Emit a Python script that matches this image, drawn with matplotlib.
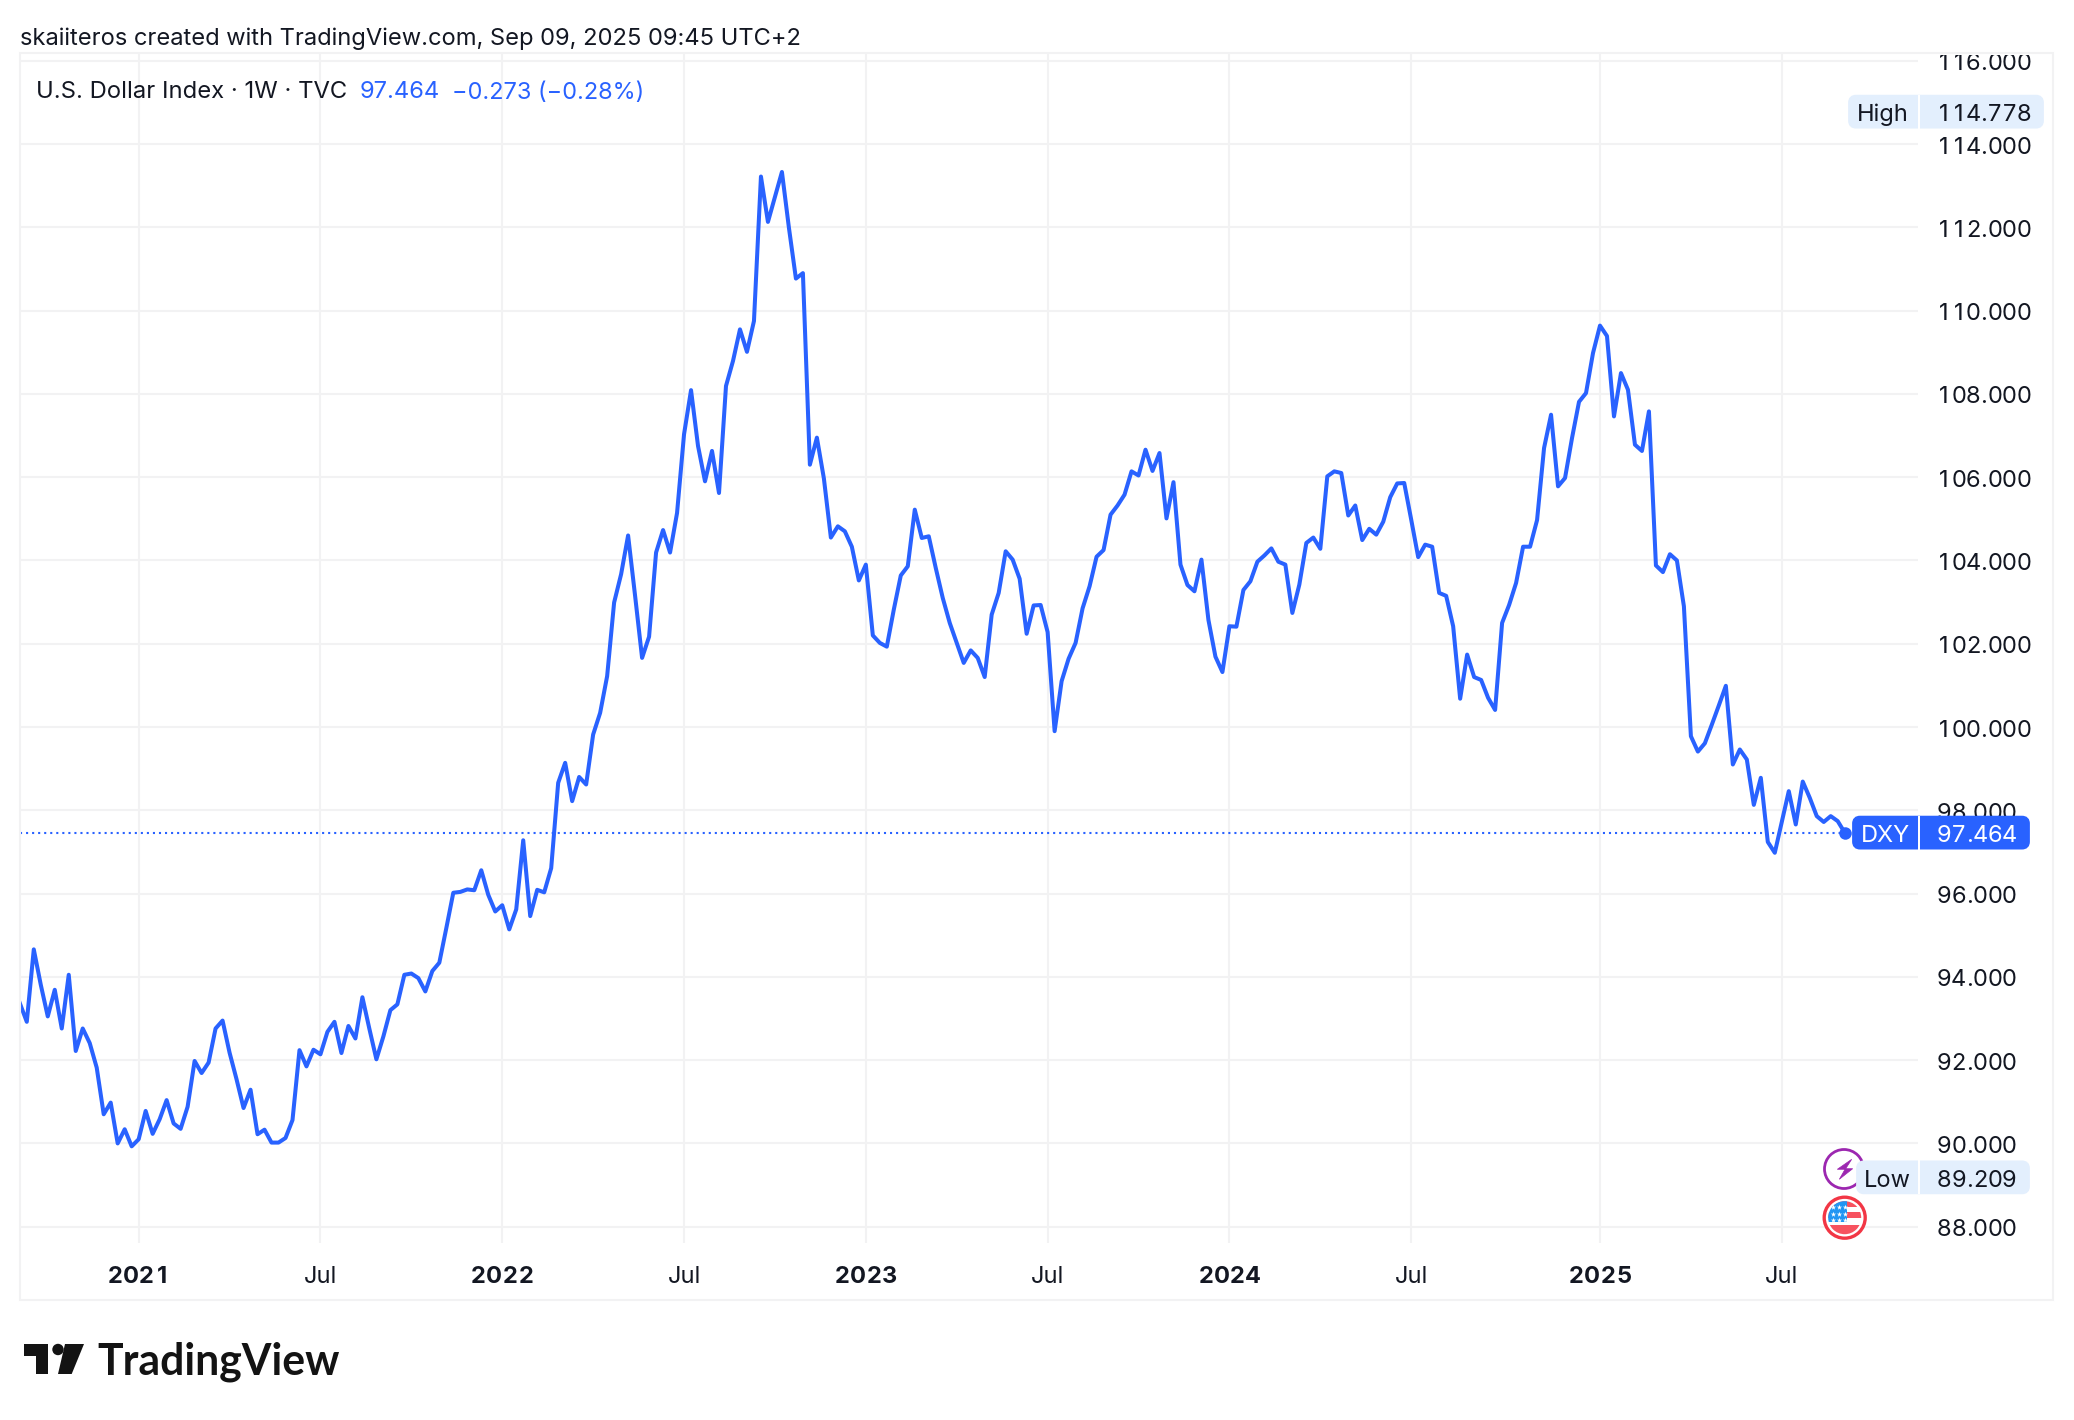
import numpy as np
import pandas as pd
import matplotlib
matplotlib.use("Agg")
import matplotlib.pyplot as plt
import matplotlib.dates as mdates
from matplotlib.patches import Circle, FancyBboxPatch, Polygon, Rectangle

# weekly closes, one per Monday from 2020-09-07
closes = [
    93.37, 92.92, 94.66, 93.81, 93.05, 93.69, 92.76, 94.05, 92.22, 92.76,
    92.41, 91.82, 90.70, 90.98, 90.00, 90.34, 89.93, 90.10, 90.78, 90.23,
    90.58, 91.04, 90.48, 90.35, 90.88, 91.98, 91.69, 91.94, 92.76, 92.95,
    92.18, 91.54, 90.85, 91.29, 90.22, 90.33, 90.02, 90.02, 90.13, 90.56,
    92.24, 91.85, 92.25, 92.14, 92.68, 92.92, 92.17, 92.82, 92.52, 93.51,
    92.75, 92.02, 92.57, 93.20, 93.34, 94.05, 94.08, 93.97, 93.65, 94.14,
    94.34, 95.17, 96.02, 96.04, 96.10, 96.08, 96.56, 95.97, 95.57, 95.72,
    95.14, 95.62, 97.28, 95.46, 96.09, 96.03, 96.61, 98.66, 99.14, 98.22,
    98.80, 98.62, 99.82, 100.34, 101.22, 102.99, 103.67, 104.60, 103.15, 101.66,
    102.17, 104.19, 104.73, 104.19, 105.14, 107.03, 108.09, 106.75, 105.90, 106.63,
    105.62, 108.19, 108.79, 109.55, 109.01, 109.75, 113.22, 112.13, 112.73, 113.33,
    111.99, 110.77, 110.90, 106.30, 106.95, 105.97, 104.55, 104.82, 104.70, 104.33,
    103.52, 103.90, 102.20, 102.02, 101.93, 102.82, 103.64, 103.86, 105.22, 104.54,
    104.58, 103.82, 103.10, 102.50, 102.02, 101.54, 101.84, 101.66, 101.20, 102.70,
    103.22, 104.22, 104.02, 103.56, 102.24, 102.92, 102.93, 102.28, 99.90, 101.10,
    101.64, 102.02, 102.85, 103.38, 104.09, 104.25, 105.10, 105.32, 105.58, 106.14,
    106.04, 106.66, 106.15, 106.58, 105.01, 105.88, 103.90, 103.41, 103.26, 104.02,
    102.57, 101.69, 101.32, 102.42, 102.41, 103.29, 103.50, 103.97, 104.12, 104.29,
    103.97, 103.90, 102.74, 103.42, 104.42, 104.55, 104.28, 106.02, 106.14, 106.10,
    105.08, 105.32, 104.49, 104.76, 104.62, 104.93, 105.52, 105.85, 105.86, 104.98,
    104.08, 104.38, 104.33, 103.22, 103.15, 102.42, 100.68, 101.74, 101.20, 101.13,
    100.70, 100.41, 102.50, 102.93, 103.46, 104.33, 104.33, 104.97, 106.70, 107.50,
    105.78, 105.98, 106.94, 107.81, 108.02, 108.98, 109.64, 109.39, 107.46, 108.50,
    108.10, 106.78, 106.63, 107.58, 103.88, 103.72, 104.15, 104.00, 102.90, 99.78,
    99.41, 99.61, 100.06, 100.52, 100.99, 99.10, 99.46, 99.22, 98.13, 98.78,
    97.24, 96.98, 97.72, 98.46, 97.66, 98.69, 98.30, 97.86, 97.72, 97.86,
    97.74, 97.464,
]
weeks = pd.date_range("2020-09-07", periods=len(closes), freq="7D")

last_price = 97.464
high_price = 114.778
low_price = 89.209
price_ticks = list(range(88, 118, 2))
year_ticks = ["2021-01-04", "2022-01-03", "2023-01-02", "2024-01-01", "2025-01-06"]
year_labels = ["2021", "2022", "2023", "2024", "2025"]
july_ticks = ["2021-07-05", "2022-07-04", "2023-07-03", "2024-07-01", "2025-07-07"]

W, H = 2074, 1420
BLUE = "#2962FF"
GRID = "#F2F2F3"
INK = "#131722"
BADGE = "#E3EFFD"
FONT = "Inter"
FS = 17.0

# pane geometry in pixels
PANE_L, PANE_R, PANE_T, PANE_B = 20, 1918, 53, 1243
FIRST_X = 19.8
WEEK_PX = 6.992
Y88 = 1226.7
UNIT_PX = 41.64


def price_y(v):
    return Y88 - (v - 88) * UNIT_PX


def week_x(d):
    return FIRST_X + (pd.Timestamp(d) - weeks[0]).days / 7 * WEEK_PX


# numbers are set with equal digit widths, which matplotlib can't ask the font for
def tab_text(target, x, y, s, cell=14.5, dot=7.0, **kw):
    for ch in s:
        adv = dot if ch == "." else cell
        target.text(x + adv / 2, y, ch, family=FONT, ha="center", va="center_baseline", **kw)
        x += adv


fig = plt.figure(figsize=(W / 100, H / 100), dpi=100, facecolor="white")

ax = fig.add_axes([PANE_L / W, 1 - PANE_B / H, (PANE_R - PANE_L) / W, (PANE_B - PANE_T) / H])
d0 = mdates.date2num(weeks[0])
ax.set_xlim(d0 + (PANE_L - FIRST_X) / WEEK_PX * 7, d0 + (PANE_R - FIRST_X) / WEEK_PX * 7)
ax.set_ylim(88 - (PANE_B - Y88) / UNIT_PX, 88 + (Y88 - PANE_T) / UNIT_PX)
for s in ax.spines.values():
    s.set_visible(False)
ax.set_xticks([])
ax.set_yticks([])

# grid
for p in price_ticks:
    ax.axhline(p, color=GRID, lw=1.5, zorder=1)
for d in year_ticks + july_ticks:
    ax.axvline(pd.Timestamp(d), color=GRID, lw=1.5, zorder=1)

# price line and last value marker
ax.plot(weeks[[0, -1]], [last_price, last_price], color=BLUE, lw=1.5,
        linestyle=(0, (1.0, 1.9)), zorder=2)
ax.plot(weeks, closes, color=BLUE, lw=2.9, solid_joinstyle="round", zorder=3)
ax.plot(weeks[-1], closes[-1], "o", color=BLUE, ms=9, mew=0, zorder=4, clip_on=False)

# overlay in pixel coordinates for labels, badges and icons
ov = fig.add_axes([0, 0, 1, 1], facecolor="none")
ov.set_xlim(0, W)
ov.set_ylim(H, 0)
ov.axis("off")

# outer frame
ov.add_patch(Rectangle((20, 53), 2033, 1247, fill=False, ec=GRID, lw=1.5, zorder=1))

# price scale, clipped at the top of the pane
scale = fig.add_axes([PANE_R / W, 1 - PANE_B / H, 135 / W, (PANE_B - 55) / H], facecolor="none")
scale.set_xlim(PANE_R, PANE_R + 135)
scale.set_ylim(88 - (PANE_B - Y88) / UNIT_PX, 88 + (Y88 - 55) / UNIT_PX)
scale.axis("off")
for p in price_ticks:
    tab_text(scale, 1937, p - 1 / UNIT_PX, f"{p:.3f}", fontsize=FS, color=INK, clip_on=True)
ov.set_zorder(scale.get_zorder() + 1)

# time scale
for d, lab in zip(year_ticks, year_labels):
    tab_text(ov, week_x(d) - 31.6, 1274.5, lab, cell=15.8, fontsize=FS, fontweight="bold", color=INK)
for d in july_ticks:
    ov.text(week_x(d), 1274.5, "Jul", family=FONT, fontsize=FS, color=INK,
            ha="center", va="center_baseline")


def badge(left, right, value, label, face, color, text_x, dy=0):
    yc = price_y(value) + dy
    ov.add_patch(FancyBboxPatch((left + 4, yc - 13), right - left - 8, 26,
                                boxstyle="round,pad=0,rounding_size=4", mutation_aspect=1,
                                fc=face, ec=face, lw=5.6, zorder=5))
    ov.add_patch(Rectangle((1918, yc - 17), 2, 34, fc="white", ec="none", zorder=6))
    ov.text(text_x, yc + 1, label, family=FONT, fontsize=FS, color=color,
            ha="center", va="center_baseline", zorder=7)
    tab_text(ov, 1937, yc + 1, f"{value:.3f}", fontsize=FS, color=color, zorder=7)


# lightning icon, partly under the low badge
PURPLE = "#9C27B0"
ov.add_patch(Circle((1844, 1169), 19.5, fc="white", ec=PURPLE, lw=2, zorder=4))
bolt = [(1851.7, 1159.3), (1837.3, 1169.3), (1845, 1169.3), (1839.3, 1179.3), (1852.7, 1168.7), (1845.7, 1168.7)]
ov.add_patch(Polygon(bolt, closed=True, fc=PURPLE, ec=PURPLE, lw=0.5, zorder=4.5))

badge(1848, 2044, high_price, "High", BADGE, INK, 1883)
badge(1856, 2030, low_price, "Low", BADGE, INK, 1887, dy=1)
badge(1852, 2030, last_price, "DXY", BLUE, "white", 1885)

# flag icon
fx, fy = 1844.7, 1217.7
ov.add_patch(Circle((fx, fy), 20.5, fc="white", ec="#F23645", lw=2.4, zorder=4))
clip = Circle((fx, fy), 16.5, transform=ov.transData)
RED = "#F7525F"
for top, tall in ((-16.5, 5.5), (-6, 6.5), (7, 10)):
    r = Rectangle((fx - 17, fy + top), 34, tall, fc=RED, ec="none", zorder=4.2)
    ov.add_patch(r)
    r.set_clip_path(clip)
r = Rectangle((fx - 17, fy - 17), 19, 21, fc="#2196F3", ec="none", zorder=4.3)
ov.add_patch(r)
r.set_clip_path(clip)
star_x = [fx - 12, fx - 6, fx, fx - 12, fx - 6, fx, fx - 12, fx - 6, fx]
star_y = [fy - 11, fy - 11, fy - 11, fy - 4, fy - 4, fy - 4, fy + 2, fy + 2, fy + 2]
ov.scatter(star_x, star_y, marker="*", s=16, c="white", linewidths=0, zorder=4.4)

# header and legend
ov.text(20, 36, "skaiiteros created with TradingView.com, Sep 09, 2025 09:45 UTC+2",
        family=FONT, fontsize=17.05, color=INK, ha="left", va="center_baseline")
ov.text(36, 90, "U.S. Dollar Index · 1W · TVC", family=FONT, fontsize=17.15, color=INK,
        ha="left", va="center_baseline")
ov.text(360, 90, "97.464", family=FONT, fontsize=17.1, color=BLUE, ha="left", va="center_baseline")
ov.text(452, 90, "\u22120.273 (\u22120.28%)", family=FONT, fontsize=16.95, color=BLUE,
        ha="left", va="center_baseline")

# logo
LOGO = "#131313"
ov.add_patch(Polygon([(24, 1344), (48.3, 1344), (48.3, 1374), (36, 1374), (36, 1356), (24, 1356)],
                     closed=True, fc=LOGO, ec="none"))
ov.add_patch(Circle((58, 1349.5), 5.7, fc=LOGO, ec="none"))
ov.add_patch(Polygon([(65, 1344), (84, 1344), (71.7, 1374), (58, 1374)], closed=True, fc=LOGO, ec="none"))
ov.text(97, 1374, "TradingView", family="Lato", fontsize=30.8, fontweight="bold", color=LOGO,
        ha="left", va="baseline")

fig.savefig("out.png", dpi=100)
